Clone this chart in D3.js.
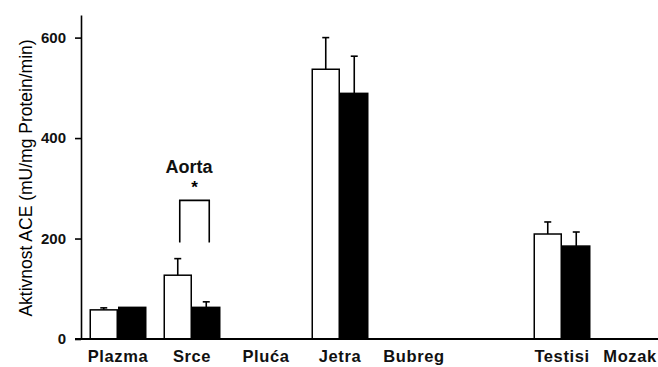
<!DOCTYPE html>
<html>
<head>
<meta charset="utf-8">
<script src="https://cdn.jsdelivr.net/npm/d3@7"></script>
<style>
  body { margin: 0; background: #fff; }
  svg { display: block; font-family: "Liberation Sans", Arial, sans-serif; }
</style>
</head>
<body>
<script>
// Data
var slots = ["Plazma", "Srce", "Pluća", "Jetra", "Bubreg", "", "Testisi", "Mozak"];
var groups = ["kontrola", "tretman"];
var whiteMean = [58, 127, null, 537, null, null, 209, null];
var whiteErr  = [4, 33, null, 63, null, null, 24, null];
var blackMean = [63, 63, null, 489, null, null, 185, null];
var blackErr  = [0, 11, null, 74, null, null, 28, null];
var yTicks = [0, 200, 400, 600];
var yTitle = "Aktivnost ACE (mU/mg Protein/min)";

var svgWidth = 658, svgHeight = 367;

const svg = d3.select("body").append("svg")
    .attr("width", svgWidth)
    .attr("height", svgHeight);

// scales
var x = d3.scalePoint().domain(slots).range([118, 636]);
var xSub = d3.scaleBand().domain(groups).range([-28.5, 28.5]);
var y = d3.scaleLinear().domain([0, 645]).range([339, 15]);

// build rows
var rows = [];
slots.forEach(function(s, i) {
    if (whiteMean[i] != null) rows.push({cat: s, g: "kontrola", v: whiteMean[i], e: whiteErr[i]});
    if (blackMean[i] != null) rows.push({cat: s, g: "tretman", v: blackMean[i], e: blackErr[i]});
});

// error bars (drawn first so bars cover the lower part)
var err = svg.append("g").attr("stroke", "#000").attr("stroke-width", 1.6);
rows.filter(function(d) { return d.e > 0; }).forEach(function(d) {
    var cx = x(d.cat) + xSub(d.g) + xSub.bandwidth() / 2;
    err.append("line")
        .attr("x1", cx).attr("x2", cx)
        .attr("y1", y(d.v)).attr("y2", y(d.v + d.e));
    err.append("line")
        .attr("x1", cx - 3.5).attr("x2", cx + 3.5)
        .attr("y1", y(d.v + d.e)).attr("y2", y(d.v + d.e));
});

// bars
svg.append("g").selectAll("rect")
    .data(rows)
    .enter().append("rect")
    .attr("x", function(d) { return x(d.cat) + xSub(d.g) + 0.75; })
    .attr("y", function(d) { return y(d.v); })
    .attr("width", xSub.bandwidth() - 1.5)
    .attr("height", function(d) { return y(0) - y(d.v); })
    .attr("fill", function(d) { return d.g === "kontrola" ? "#fff" : "#000"; })
    .attr("stroke", "#000")
    .attr("stroke-width", 1.5);

// y axis
var yAxis = svg.append("g")
    .attr("transform", "translate(81,0)")
    .call(d3.axisLeft(y).tickValues(yTicks).tickSize(6).tickSizeOuter(0).tickPadding(9));
yAxis.select(".domain").attr("stroke-width", 1.6);
yAxis.selectAll(".tick line").attr("stroke-width", 1.6);
yAxis.selectAll("text")
    .style("font-size", "15px")
    .style("font-weight", "bold")
    .attr("fill", "#111");

// x baseline
svg.append("line")
    .attr("x1", 75).attr("x2", svgWidth)
    .attr("y1", y(0)).attr("y2", y(0))
    .attr("stroke", "#000").attr("stroke-width", 1.8);

// category labels
var labels = svg.append("g").selectAll("text")
    .data(slots.filter(function(s) { return s !== ""; }))
    .enter().append("text")
    .attr("x", function(d) { return x(d); })
    .attr("y", 362)
    .attr("text-anchor", "middle")
    .style("font-size", "16.5px")
    .style("font-weight", "bold")
    .style("letter-spacing", "0.6px")
    .attr("fill", "#111")
    .text(function(d) { return d; });

// keep labels inside the picture
labels.each(function() {
    var b = this.getBBox();
    if (b.x + b.width > svgWidth - 1) {
        d3.select(this).attr("x", +d3.select(this).attr("x") - (b.x + b.width - svgWidth + 1));
    }
});

// y title
svg.append("text")
    .attr("transform", "translate(32," + ((y(645) + y(0)) / 2 + 1) + ") rotate(-90)")
    .attr("text-anchor", "middle")
    .style("font-size", "17.5px")
    .attr("fill", "#000")
    .text(yTitle);

// significance bracket for Srce
var bx1 = x("Srce") + xSub("kontrola") + xSub.bandwidth() / 2 + 2;
var bx2 = x("Srce") + xSub("tretman") + xSub.bandwidth() / 2 + 3;
svg.append("path")
    .attr("d", "M" + bx1 + "," + y(192) + "V" + y(276) + "H" + bx2 + "V" + y(192))
    .attr("fill", "none")
    .attr("stroke", "#000")
    .attr("stroke-width", 1.6);

svg.append("text")
    .attr("x", (bx1 + bx2) / 2)
    .attr("y", 193)
    .attr("text-anchor", "middle")
    .style("font-size", "17px")
    .style("font-weight", "bold")
    .text("*");

svg.append("text")
    .attr("x", x("Srce") - 3)
    .attr("y", 173)
    .attr("text-anchor", "middle")
    .style("font-size", "18px")
    .style("font-weight", "bold")
    .attr("fill", "#111")
    .text("Aorta");
</script>
</body>
</html>
